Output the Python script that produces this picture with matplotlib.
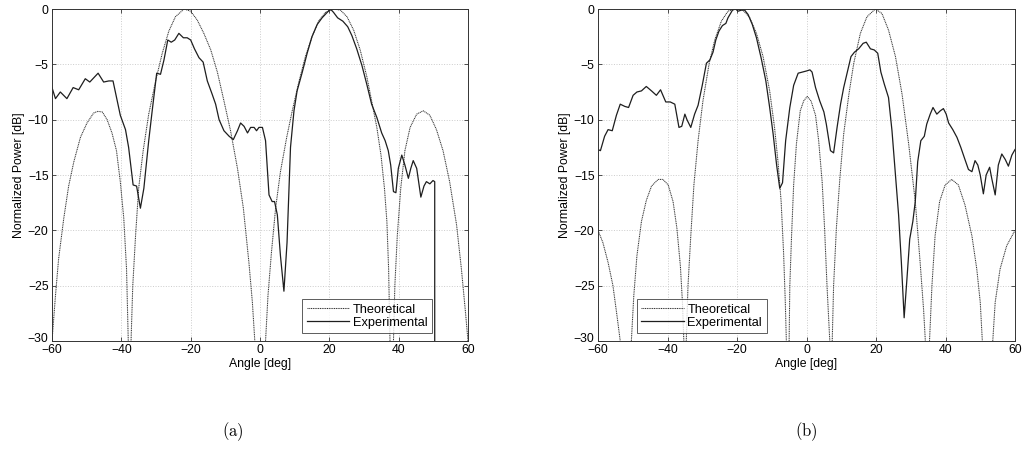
import matplotlib
matplotlib.use("Agg")
import matplotlib.pyplot as plt
import matplotlib.transforms as mtransforms

plt.rcParams['font.family'] = ['Liberation Sans', 'DejaVu Sans']
plt.rcParams['mathtext.fontset'] = 'cm'

# ---------------- data (a) ----------------
a_theo_x = [-60, -59.0, -58.1, -56.6, -55.2, -53.7, -51.8, -49.9, -48.0, -46.8, -45.5, -44.1, -42.7, -41.4,
            -40.3, -39.3, -38.5, -38.0, -37.6,
            -37.2, -36.7, -35.9, -35.0, -33.7, -32.1, -30.1, -28.2, -26.3, -24.4, -21.9, -20.0, -18.1,
            -16.2, -14.2, -12.3, -10.4, -8.5, -6.5, -4.8, -3.2, -2.2, -1.5, 0.5,
            1.6, 2.3, 3.3, 4.5, 5.9, 7.7, 9.3, 11.2, 13.1, 15.0, 16.9, 18.9, 21.2, 23.2, 25.1, 27.0,
            28.9, 30.8, 32.2, 33.7, 34.9, 35.9, 36.6, 37.1, 37.5, 38.0,
            38.5, 38.9, 39.6, 40.6, 41.8, 43.3, 45.2, 47.1, 49.0, 50.9, 52.8, 54.7, 56.7, 58.1, 59.3, 60]
a_theo_y = [-30, -25.9, -22.6, -18.9, -16.0, -13.8, -11.6, -10.3, -9.4, -9.25, -9.3, -10.0, -11.2, -12.8,
            -15.6, -18.9, -23.5, -30, -40,
            -30, -25.0, -20.5, -16.2, -12.8, -9.5, -6.5, -4.0, -2.0, -0.7, 0.0, -0.2, -1.0,
            -2.2, -3.7, -5.7, -8.3, -11.0, -14.4, -18.0, -22.9, -26.5, -30, -40,
            -30, -25.9, -22.0, -18.0, -14.7, -11.6, -9.2, -6.6, -4.3, -2.5, -1.1, -0.3, 0.0, -0.1, -0.7, -1.9,
            -3.7, -6.1, -8.3, -10.7, -13.2, -16.2, -19.2, -23.5, -30, -40,
            -30, -25.0, -20.5, -16.2, -12.8, -10.7, -9.5, -9.2, -9.6, -10.9, -12.8, -15.6, -19.5, -23.5, -27.5, -30]

a_exp_x = [-60, -59.0, -57.6, -55.7, -53.9, -52.3, -50.4, -49.1, -46.7, -45.1, -43.6, -42.4, -40.3, -38.8,
           -37.9, -36.6, -35.6, -34.5, -33.5, -32.1, -31.1, -29.8, -28.7, -27.7, -26.6, -25.6, -24.6,
           -23.4, -22.1, -21.0, -20.0, -18.9, -17.6, -16.4, -15.2, -13.8, -12.8, -11.8, -10.4, -8.9,
           -7.7, -6.5, -5.6, -4.6, -3.6, -2.7, -1.7, -1.0, -0.3, 0.7, 1.6, 2.6, 3.5, 4.2, 5.0, 5.9,
           6.9, 7.8, 8.8, 9.8, 10.7, 12.2, 13.6, 15.0, 16.5, 17.9, 19.1, 20.3, 21.2, 22.4, 23.9, 25.3,
           26.5, 27.9, 29.4, 30.8, 32.2, 33.7, 35.1, 36.1, 37.0, 37.7, 38.5, 39.2, 39.9, 40.9, 41.8,
           42.8, 43.5, 44.2, 45.2, 46.4, 47.3, 48.0, 49.0, 49.9, 50.4, 50.4]
a_exp_y = [-7.1, -8.1, -7.5, -8.1, -7.1, -7.3, -6.3, -6.6, -5.8, -6.6, -6.5, -6.5, -9.6, -10.9,
           -12.5, -15.9, -16.0, -18.0, -16.2, -11.9, -9.2, -5.8, -5.9, -4.6, -2.8, -3.0, -2.8,
           -2.2, -2.6, -2.6, -2.8, -3.6, -4.4, -4.8, -6.5, -7.7, -8.6, -10.0, -11.0, -11.5,
           -11.8, -11.0, -10.3, -10.6, -11.2, -10.7, -10.7, -11.0, -10.7, -10.7, -11.9, -16.8, -17.4,
           -17.4, -18.6, -22.3, -25.5, -21.1, -12.5, -9.2, -7.4, -5.7, -4.0, -2.5, -1.4, -0.8, -0.4, 0.0,
           -0.3, -0.8, -1.1, -1.6, -2.4, -3.6, -5.1, -6.8, -8.6, -9.8, -11.2, -11.9, -12.8, -14.1,
           -16.5, -16.6, -14.4, -13.2, -14.1, -15.3, -14.4, -13.7, -14.4, -17.0, -16.0, -15.6, -15.8,
           -15.5, -15.6, -40]

# ---------------- data (b) ----------------
b_theo_x = [-60, -58.6, -57.1, -55.7, -54.5, -53.6, -52.0,
            -50.4, -49.7, -48.8, -47.5, -46.1, -44.6, -42.7, -41.3, -39.8, -38.4, -37.3, -36.3, -35.7,
            -35.3, -35.0,
            -34.6, -34.1, -33.3, -32.4, -31.2, -29.8, -28.0, -26.4, -24.5, -22.6, -20.7, -18.3, -16.3,
            -14.4, -12.5, -10.6, -9.2, -8.2, -7.3, -6.6, -6.1, -5.8, -5.4,
            -5.0, -4.8, -4.3, -3.7, -2.9, -1.8, -0.8, 0.2, 1.3, 2.6, 3.5, 4.5, 5.2, 5.9, 6.7, 7.0,
            7.4, 7.8, 8.6, 9.6, 10.7, 12.2, 13.6, 15.5, 17.4, 19.8, 21.7, 23.6, 25.6, 27.5, 29.4, 31.3,
            32.7, 33.7, 34.2, 34.8,
            35.4, 36.1, 37.0, 38.3, 39.9, 41.8, 43.7, 45.6, 47.6, 49.0, 50.0, 50.6, 52.0,
            53.6, 54.3, 55.7, 57.6, 60]
b_theo_y = [-20.0, -21.1, -22.9, -25.0, -27.8, -30, -40,
            -30, -25.9, -22.3, -19.2, -17.3, -16.0, -15.4, -15.4, -15.9, -17.4, -19.8, -23.2, -26.5,
            -30, -40,
            -30, -25.0, -20.5, -15.9, -11.9, -8.3, -4.9, -2.8, -1.1, -0.2, 0.0, -0.1, -0.8,
            -2.2, -4.3, -7.4, -10.7, -13.8, -17.4, -22.0, -26.5, -30, -40,
            -30, -25.0, -20.5, -15.9, -12.2, -9.2, -8.3, -7.9, -8.3, -9.6, -11.9, -15.6, -19.8, -25.0, -30, -40,
            -30, -25.0, -19.8, -15.3, -11.3, -7.7, -4.9, -2.2, -0.7, 0.0, -0.4, -1.9, -4.3, -7.7, -12.2, -17.4,
            -22.9, -27.2, -30, -40,
            -30, -25.0, -20.5, -17.4, -15.9, -15.4, -15.9, -17.7, -20.5, -23.5, -26.5, -30, -40,
            -30, -26.5, -23.5, -21.4, -20.0]

b_exp_x = [-60, -59.3, -58.1, -57.1, -55.9, -54.7, -53.6, -52.3, -51.2, -49.9, -48.8, -47.5, -46.1, -44.6,
           -43.2, -42.0, -40.5, -39.2, -37.9, -36.7, -35.9, -35.0, -34.4, -33.3, -32.2, -31.2, -30.0,
           -28.8, -27.8, -26.9, -26.1, -25.2, -24.2, -23.2, -22.6, -21.3, -20.4, -19.7, -18.7, -17.8,
           -16.8, -15.6, -14.4, -13.0, -11.7, -10.6, -9.6, -8.6, -7.7, -6.9, -6.0, -4.8, -3.7, -2.4,
           -1.2, 0.0, 1.0, 1.6, 2.6, 3.8, 5.0, 5.7, 6.9, 7.8, 8.8, 9.8, 10.7, 11.9, 12.8, 13.8, 15.0,
           16.3, 17.2, 18.4, 19.5, 20.5, 21.4, 22.4, 23.6, 24.6, 25.6, 26.5, 27.3, 28.1, 28.9, 29.7,
           30.6, 31.3, 32.0, 32.9, 33.9, 34.6, 35.6, 36.4, 37.5, 38.5, 39.4, 40.2, 40.9, 42.1, 43.3,
           44.4, 45.6, 46.6, 47.6, 48.5, 49.3, 50.0, 50.9, 51.7, 52.7, 53.3, 54.3, 55.2, 56.2, 57.2,
           58.1, 59.1, 60]
b_exp_y = [-12.7, -12.8, -11.5, -10.9, -11.0, -9.6, -8.6, -8.8, -8.9, -7.8, -7.5, -7.4, -7.0, -7.4,
           -7.8, -7.3, -8.4, -8.4, -8.6, -10.7, -10.6, -9.5, -10.0, -10.7, -9.5, -8.7, -6.9,
           -4.9, -4.6, -3.9, -2.8, -2.0, -1.5, -1.3, -0.8, -0.1, 0.0, -0.2, -0.1, -0.1,
           -0.5, -1.4, -2.6, -4.5, -6.5, -8.9, -11.3, -14.1, -16.2, -15.7, -11.9, -8.9, -6.9, -5.8,
           -5.7, -5.6, -5.5, -5.7, -7.1, -8.3, -9.3, -10.4, -12.8, -13.0, -10.7, -8.6, -7.1, -5.5, -4.3,
           -3.9, -3.6, -3.1, -3.0, -3.6, -3.7, -4.0, -5.7, -6.8, -8.0, -11.0, -15.0, -18.6, -22.9, -27.9,
           -24.4, -20.8, -19.2, -17.4, -13.8, -11.9, -11.5, -10.4, -9.5, -8.9, -9.5, -9.2, -9.0, -9.5,
           -10.3, -10.9, -11.6, -12.5, -13.6, -14.5, -14.7, -13.7, -14.1, -15.0, -16.7, -15.0, -14.3,
           -15.3, -16.8, -14.1, -13.1, -13.6, -14.2, -13.2, -12.7]

x_ticks = [-60, -40, -20, 0, 20, 40, 60]
y_ticks = [-30, -25, -20, -15, -10, -5, 0]
labels = ['Theoretical', 'Experimental']

fig = plt.figure(figsize=(10.24, 4.66), dpi=100)
ax_a = fig.add_axes([52/1024, 125/466, 416/1024, 332/466])
ax_b = fig.add_axes([598/1024, 125/466, 417/1024, 332/466])

panels = [
    (ax_a, a_theo_x, a_theo_y, a_exp_x, a_exp_y, 'lower right', (1 - 36/416, 8/332)),
    (ax_b, b_theo_x, b_theo_y, b_exp_x, b_exp_y, 'lower left', (39/417, 8/332)),
]

for ax, tx, ty, ex, ey, lloc, lpos in panels:
    ax.plot(tx, ty, linestyle=(0, (1, 0.7)), color='#303030', linewidth=0.75, label=labels[0])
    ax.plot(ex, ey, linestyle='-', color='#1e1e1e', linewidth=0.9, label=labels[1])
    ax.set_xlim(-60, 60)
    ax.set_ylim(-30, 0)
    ax.set_xticks(x_ticks)
    ax.set_yticks(y_ticks)
    ax.grid(True, color='#cccccc', linestyle=':', linewidth=0.7)
    ax.tick_params(direction='in', length=3, width=0.6, labelsize=8.8, top=True, right=True,
                   color='#333333', pad=2.5)
    for s in ax.spines.values():
        s.set_linewidth(0.7)
        s.set_color('#333333')
    ax.set_xlabel('Angle [deg]', fontsize=8.8, labelpad=1)
    ax.set_ylabel('Normalized Power [dB]', fontsize=8.8, labelpad=2)
    # raise the bottom y tick label slightly (as in the reference)
    fig.canvas.draw()
    lab = ax.get_yticklabels()[0]
    lab.set_transform(lab.get_transform() + mtransforms.ScaledTranslation(0, 4/100, fig.dpi_scale_trans))
    leg = ax.legend(loc=lloc, bbox_to_anchor=lpos, fontsize=9.2,
                    frameon=True, fancybox=False, borderaxespad=0, handlelength=3.3,
                    handletextpad=0.3, borderpad=0.35, labelspacing=0.05)
    leg.get_frame().set_edgecolor('#333333')
    leg.get_frame().set_linewidth(0.7)

fig.text(233/1024, 1 - 432/466, r'$\mathrm{(a)}$', ha='center', va='center', fontsize=12)
fig.text(806/1024, 1 - 432/466, r'$\mathrm{(b)}$', ha='center', va='center', fontsize=12)

fig.savefig('out.png', dpi=100)
